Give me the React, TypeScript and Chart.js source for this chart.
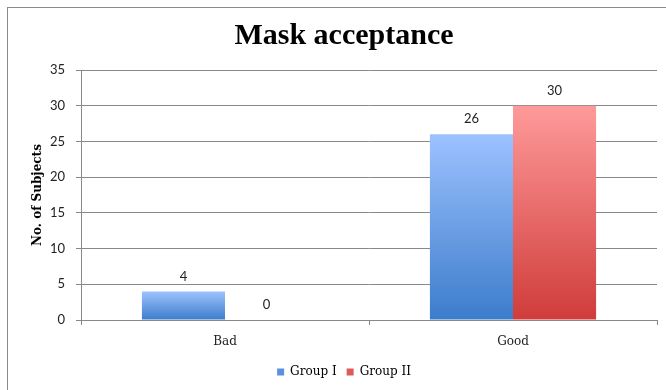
import React, { useEffect, useRef } from 'react';
import { Chart, registerables } from 'chart.js';

Chart.register(...registerables);

const chartTitle = 'Mask acceptance';
const yAxisTitle = 'No. of Subjects';
const categories = ['Bad', 'Good'];
const seriesNames = ['Group I', 'Group II'];
const groupIValues = [4, 26];
const groupIIValues = [0, 30];
const yMin = 0;
const yMax = 35;
const yStep = 5;

const blueTop = '#9dc2ff';
const blueBottom = '#3c7ccb';
const redTop = '#ff9a9a';
const redBottom = '#cf3c3a';
const blueLegend = '#5b8fdf';
const redLegend = '#e05a5a';
const gridColor = '#888888';

function barGradient(top: string, bottom: string) {
  return (ctx: any) => {
    const chart = ctx.chart;
    if (!chart.chartArea || ctx.type !== 'data') return bottom;
    const yScale = chart.scales.y;
    const v = ctx.raw as number;
    const y0 = yScale.getPixelForValue(0);
    const y1 = yScale.getPixelForValue(v);
    if (Math.abs(y0 - y1) < 1) return bottom;
    const g = chart.ctx.createLinearGradient(0, y1, 0, y0);
    g.addColorStop(0, top);
    g.addColorStop(1, bottom);
    return g;
  };
}

const dataLabelPlugin = {
  id: 'dataLabels',
  afterDatasetsDraw(chart: any) {
    const { ctx } = chart;
    ctx.save();
    ctx.font = '13px Lato';
    ctx.fillStyle = '#222';
    ctx.textAlign = 'center';
    ctx.textBaseline = 'middle';
    chart.data.datasets.forEach((ds: any, di: number) => {
      const meta = chart.getDatasetMeta(di);
      meta.data.forEach((el: any, i: number) => {
        ctx.fillText(String(ds.data[i]), el.x, el.y - 15);
      });
    });
    ctx.restore();
  },
};

export default function App() {
  const canvasRef = useRef<HTMLCanvasElement | null>(null);

  useEffect(() => {
    if (!canvasRef.current) return;
    const chart = new Chart(canvasRef.current, {
      type: 'bar',
      data: {
        labels: categories,
        datasets: [
          {
            label: seriesNames[0],
            data: groupIValues,
            backgroundColor: barGradient(blueTop, blueBottom),
            borderWidth: 0,
            barPercentage: 1,
            categoryPercentage: 0.577,
          },
          {
            label: seriesNames[1],
            data: groupIIValues,
            backgroundColor: barGradient(redTop, redBottom),
            borderWidth: 0,
            barPercentage: 1,
            categoryPercentage: 0.577,
          },
        ],
      },
      options: {
        responsive: false,
        animation: false,
        devicePixelRatio: 1,
        layout: { padding: { left: 23, right: 9, top: 0, bottom: 2 } },
        plugins: {
          title: {
            display: true,
            text: chartTitle,
            color: '#000',
            font: { family: 'Liberation Serif', size: 30, weight: 'bold' },
            padding: { top: 10, bottom: 16 },
          },
          legend: {
            position: 'bottom',
            labels: {
              boxWidth: 7,
              boxHeight: 7,
              color: '#222',
              font: { family: 'DejaVu Serif', size: 12 },
              generateLabels: () => [
                { text: seriesNames[0], fillStyle: blueLegend, strokeStyle: blueLegend, lineWidth: 0, datasetIndex: 0, hidden: false },
                { text: seriesNames[1], fillStyle: redLegend, strokeStyle: redLegend, lineWidth: 0, datasetIndex: 1, hidden: false },
              ],
            },
          },
          tooltip: { enabled: false },
        },
        scales: {
          x: {
            afterFit: (scale: any) => {
              scale.height = 36;
            },
            grid: {
              display: true,
              drawOnChartArea: false,
              drawTicks: true,
              tickLength: 5,
              color: gridColor,
              offset: true,
            },
            border: { display: true, color: gridColor },
            ticks: {
              color: '#222',
              padding: 10,
              font: { family: 'DejaVu Serif', size: 12 },
            },
          },
          y: {
            min: yMin,
            max: yMax,
            afterFit: (scale: any) => {
              scale.width = 50;
            },
            grid: { color: gridColor, tickLength: 5 },
            border: { display: true, color: gridColor },
            ticks: {
              stepSize: yStep,
              color: '#222',
              padding: 11,
              font: { family: 'Lato', size: 13 },
            },
            title: {
              display: true,
              text: yAxisTitle,
              color: '#000',
              padding: 0,
              font: { family: 'DejaVu Serif', size: 12, weight: 'bold' },
            },
          },
        },
      },
      plugins: [dataLabelPlugin],
    });
    return () => chart.destroy();
  }, []);

  return (
    <div
      style={{
        position: 'absolute',
        left: 7,
        top: 7,
        borderTop: '1px solid #8a8a8a',
        borderLeft: '1px solid #8a8a8a',
        background: '#fff',
      }}
    >
      <canvas ref={canvasRef} width={658} height={382} style={{ display: 'block', width: 658, height: 382 }} />
    </div>
  );
}
